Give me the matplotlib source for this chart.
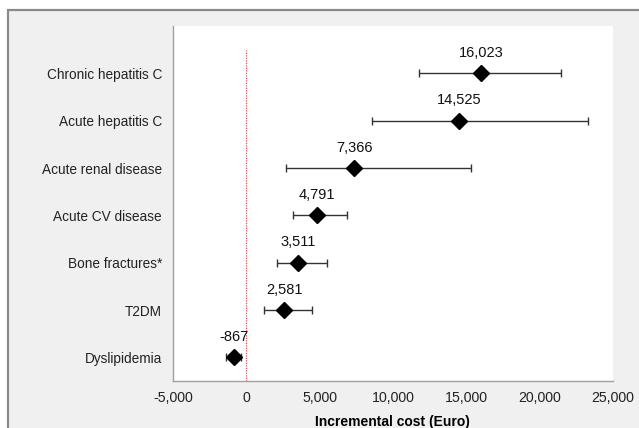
import matplotlib.pyplot as plt
from matplotlib.patches import Rectangle

plt.rcParams['font.family'] = ['Liberation Sans', 'DejaVu Sans']

categories = ['Dyslipidemia', 'T2DM', 'Bone fractures*', 'Acute CV disease',
              'Acute renal disease', 'Acute hepatitis C', 'Chronic hepatitis C']
costs = [-867, 2581, 3511, 4791, 7366, 14525, 16023]
ci_low = [-1350, 1230, 2070, 3200, 2700, 8590, 11800]
ci_high = [-380, 4450, 5480, 6890, 15360, 23340, 21500]
xticks = [-5000, 0, 5000, 10000, 15000, 20000, 25000]

fig = plt.figure(figsize=(6.39, 4.28), dpi=100)
fig.patch.set_facecolor('white')
# outer chart frame (Excel style)
fig.patches.append(Rectangle((7.5 / 639, -0.05), 1.1, 1 - 10.5 / 428 + 0.05,
                             transform=fig.transFigure, facecolor='#f0f0f0',
                             edgecolor='#8a8a8a', linewidth=1.6, zorder=-10))

ax = fig.add_axes([173 / 639, 1 - 381 / 428, (612.7 - 173) / 639, (381 - 26) / 428])
ax.set_facecolor('white')

ypos = list(range(len(categories)))
err = [[c - lo for c, lo in zip(costs, ci_low)], [hi - c for c, hi in zip(costs, ci_high)]]
ax.errorbar(costs, ypos, xerr=err, fmt='none', ecolor='#333333', elinewidth=1.0,
            capsize=2.6, capthick=1.0, zorder=2)
ax.plot(costs, ypos, 'D', color='black', markersize=8.5, zorder=3)

for c, y in zip(costs, ypos):
    ax.text(c, y + 0.28, f"{c:,}", ha='center', va='bottom', fontsize=10.5, color='#111111')

ax.vlines(0, -0.5, 6.5, colors='#e05050', linestyles=(0, (1, 1)), linewidth=0.9, zorder=1)

ax.set_xlim(-5000, 25000)
ax.set_ylim(-0.5, 7.0)
ax.set_xticks(xticks)
ax.set_xticklabels([f"{t:,}" for t in xticks], fontsize=10.2, color='#222222')
ax.set_yticks(ypos)
ax.set_yticklabels(categories, fontsize=9.8, color='#222222')
ax.tick_params(axis='x', length=0, pad=7.5)
ax.tick_params(axis='y', length=0, pad=8)

for s in ['top', 'right']:
    ax.spines[s].set_visible(False)
for s in ['left', 'bottom']:
    ax.spines[s].set_color('#a0a0a0')
    ax.spines[s].set_linewidth(1.0)

ax.set_xlabel('Incremental cost (Euro)', fontsize=10, fontweight='bold', labelpad=7)

fig.savefig('out.png', dpi=100)
